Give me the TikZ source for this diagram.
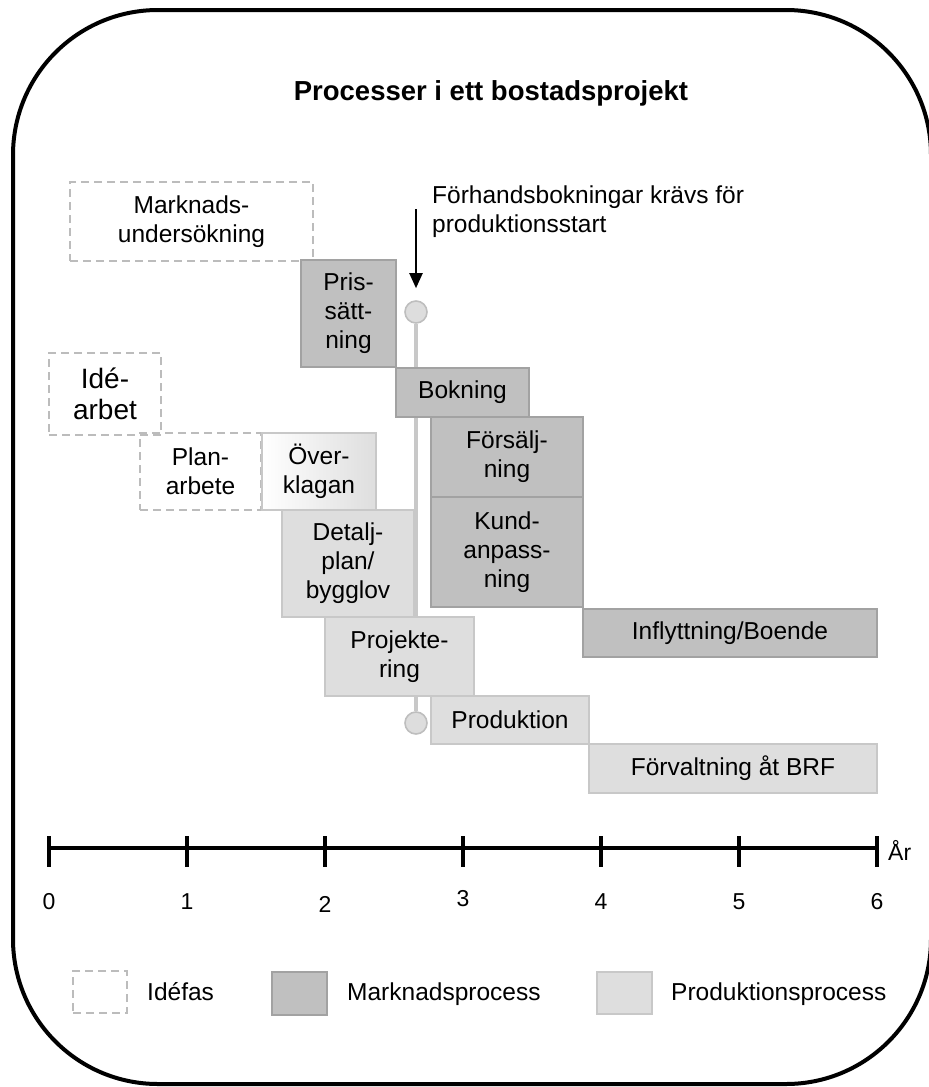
\documentclass[tikz,border=0pt]{standalone}
\usepackage{fontspec}
\setmainfont{Liberation Sans}
\usetikzlibrary{arrows.meta,backgrounds}

\definecolor{mkfill}{RGB}{192,192,192}
\definecolor{mkline}{RGB}{162,162,162}
\definecolor{prfill}{RGB}{222,222,222}
\definecolor{prline}{RGB}{200,200,200}
\definecolor{idline}{RGB}{188,188,188}
\definecolor{stemgray}{RGB}{200,200,200}
\definecolor{dotfill}{RGB}{221,221,221}
\definecolor{dotline}{RGB}{190,190,190}

\newcommand\bodytext{\fontsize{24.5}{29}\selectfont}
\newcommand\bigtext{\fontsize{28}{31}\selectfont}
\newcommand\titletext{\fontsize{27.5}{32}\selectfont\bfseries}
\newcommand\axistext{\fontsize{23}{27}\selectfont}

\begin{document}
\begin{tikzpicture}[x=1pt,y=-1pt,
  box/.style={draw, line width=1.6pt, anchor=north west, inner sep=0pt,
    outer sep=0pt, align=center, font=\bodytext},
  mkbox/.style={box, fill=mkfill, draw=mkline},
  prbox/.style={box, fill=prfill, draw=prline},
  idbox/.style={box, draw=idline, dash pattern=on 8pt off 5pt},
  dot/.style={circle, fill=dotfill, draw=dotline, line width=1.6pt,
    minimum size=22pt, inner sep=0pt},
  stem/.style={draw=stemgray, line width=4pt},
  axisline/.style={line width=3.5pt},
  tickmark/.style={line width=4pt},
  legtext/.style={anchor=west, font=\bodytext, inner sep=0pt}]

\useasboundingbox (0,0) rectangle (929,1087);

% outer frame
\draw[line width=4pt, rounded corners=145pt] (13,10) rectangle (931,1084);

% title
\node[anchor=base, font=\titletext, inner sep=0pt] (title) at (491,100)
  {Processer i ett bostadsprojekt};

% idea phase
\node[idbox, minimum width=243pt, minimum height=79pt] (markn) at (70,182)
  {Marknads-\\undersökning};
\node[idbox, minimum width=112pt, minimum height=82pt, font=\bigtext] (ide) at (49,353)
  {Idé-\\arbet};
\node[idbox, minimum width=121pt, minimum height=77pt] (plan) at (140,433)
  {Plan-\\arbete};

% market process
\node[mkbox, minimum width=95pt, minimum height=107pt] (pris) at (301,260)
  {Pris-\\sätt-\\ning};
\node[mkbox, minimum width=133pt, minimum height=49pt] (bok) at (396,368)
  {Bokning};
\node[mkbox, minimum width=152pt, minimum height=80pt] (fors) at (431,417)
  {Försälj-\\ning};
\node[mkbox, minimum width=152pt, minimum height=110pt] (kund) at (431,497)
  {Kund-\\anpass-\\ning};
\node[mkbox, minimum width=294pt, minimum height=48pt] (infl) at (583,609)
  {Inflyttning/Boende};

% production process
\node[box, draw=prline, left color=white, right color=prfill,
  minimum width=114pt, minimum height=77pt] (over) at (262,433)
  {Över-\\klagan};
\node[prbox, minimum width=132pt, minimum height=107pt] (detalj) at (282,510)
  {Detalj-\\plan/\\bygglov};
\node[prbox, minimum width=149pt, minimum height=79pt] (proj) at (325,617)
  {Projekte-\\ring};
\node[prbox, minimum width=158pt, minimum height=48pt] (prod) at (431,696)
  {Produktion};
\node[prbox, minimum width=288pt, minimum height=49pt] (forv) at (589,744)
  {Förvaltning åt BRF};

% pre-booking milestone
\node[dot] (dtop) at (416,312) {};
\node[dot] (dbot) at (416,723) {};
\begin{scope}[on background layer]
  \draw[stem] (dtop) -- (dbot);
\end{scope}

\node[anchor=north west, align=left, font=\bodytext, inner sep=0pt] (note) at (432,186)
  {Förhandsbokningar krävs för\\produktionsstart};
\coordinate (arrtail) at (416,209);
\draw[line width=2pt, -{Triangle[length=15pt,width=13pt]}]
  (arrtail) -- ([yshift=12pt]dtop.north);

% time axis
\foreach \i in {0,...,6}
  \coordinate (t\i) at ({49+138*\i},848);
\draw[axisline] (t0) -- (t6);
\foreach \i in {0,...,6}
  \draw[tickmark] ([yshift=12pt]t\i) -- ([yshift=-19pt]t\i);
\foreach \i/\dy in {0/0,1/0,2/2,3/-3,4/0,5/0,6/0}
  \node[font=\axistext, inner sep=0pt] (lab\i) at ({49+138*\i},{902+\dy}) {\i};
\node[anchor=west, font=\axistext, inner sep=0pt] (unit) at (888,850) {År};

% legend
\node[idbox, minimum width=54pt, minimum height=42pt] (legid) at (73,971) {};
\node[legtext] (legidt) at (147,992) {Idéfas};
\node[mkbox, minimum width=55pt, minimum height=43pt] (legmk) at (272,972) {};
\node[legtext] (legmkt) at (347,994) {Marknadsprocess};
\node[prbox, minimum width=55pt, minimum height=42pt] (legpr) at (597,972) {};
\node[legtext] (legprt) at (671,994) {Produktionsprocess};
\end{tikzpicture}
\end{document}
